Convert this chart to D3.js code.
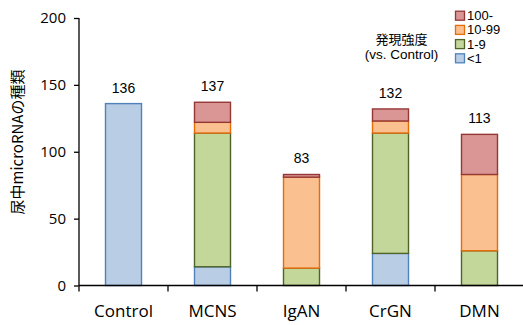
<!DOCTYPE html>
<html>
<head>
<meta charset="utf-8">
<script src="https://cdn.jsdelivr.net/npm/d3@7"></script>
<style>
  html, body { margin: 0; padding: 0; background: #fff; }
  svg { display: block; }
</style>
</head>
<body>
<svg id="chart" width="523" height="325"></svg>
<script>
// Groups on the x axis
const categories = ["Control", "MCNS", "IgAN", "CrGN", "DMN"];
// Expression-level bins, stacked bottom to top
const seriesKeys = ["<1", "1-9", "10-99", "100-"];
const lessThan1 = [136, 14, 0, 24, 0];
const oneToNine = [0, 100, 13, 90, 26];
const tenTo99 = [0, 8, 68, 9, 57];
const over100 = [0, 15, 2, 9, 30];
const totals = [136, 137, 83, 132, 113];
const yTicks = [0, 50, 100, 150, 200];

const fills = { "<1": "#B9CDE5", "1-9": "#C4D79B", "10-99": "#FAC090", "100-": "#D99694" };
const strokes = { "<1": "#4F81BD", "1-9": "#4F6228", "10-99": "#E46C0A", "100-": "#953735" };

const rows = categories.map((c, i) => ({
  cat: c,
  "<1": lessThan1[i], "1-9": oneToNine[i], "10-99": tenTo99[i], "100-": over100[i],
  total: totals[i]
}));

const svg = d3.select("#chart");
const x = d3.scaleBand().domain(categories).range([79, 524]).paddingInner(0).paddingOuter(0);
const y = d3.scaleLinear().domain([0, 200]).range([285.5, 18]);
const barW = 36;

const stack = d3.stack().keys(seriesKeys)(rows);

svg.append("g").selectAll("g")
  .data(stack).join("g")
  .attr("fill", d => fills[d.key])
  .attr("stroke", d => strokes[d.key])
  .attr("stroke-width", 1.4)
  .selectAll("rect")
  .data(d => d.filter(s => s[1] - s[0] > 0))
  .join("rect")
  .attr("x", d => x(d.data.cat) + x.bandwidth() / 2 - barW / 2)
  .attr("width", barW)
  .attr("y", d => y(d[1]))
  .attr("height", d => y(d[0]) - y(d[1]));

// Totals above each bar
svg.append("g").selectAll("text")
  .data(rows).join("text")
  .attr("x", d => x(d.cat) + x.bandwidth() / 2)
  .attr("y", d => y(d.total) - 11)
  .attr("text-anchor", "middle")
  .attr("font-family", "Liberation Sans, Arial, sans-serif")
  .attr("font-size", 14)
  .attr("fill", "#000")
  .text(d => d.total);

// Y axis
const yAxis = svg.append("g")
  .attr("transform", "translate(79,0)")
  .call(d3.axisLeft(y).tickValues(yTicks).tickSize(5).tickPadding(8));
yAxis.selectAll("path, line").attr("stroke", "#000").attr("stroke-width", 1.3);
yAxis.select(".domain").attr("d", `M0,${y(200)}V${y(0)}`);
yAxis.selectAll("text")
  .attr("font-family", "Open Sans, sans-serif")
  .attr("font-size", 15)
  .attr("fill", "#000");

// X axis: baseline with boundary ticks between groups
const xAxisG = svg.append("g");
xAxisG.append("line")
  .attr("x1", 79).attr("x2", 524).attr("y1", y(0)).attr("y2", y(0))
  .attr("stroke", "#000").attr("stroke-width", 1.3);
const bounds = categories.map(c => x(c)).concat([x(categories[categories.length - 1]) + x.bandwidth()]);
xAxisG.selectAll("line.tick")
  .data(bounds).join("line")
  .attr("class", "tick")
  .attr("x1", d => d).attr("x2", d => d)
  .attr("y1", y(0)).attr("y2", y(0) + 6)
  .attr("stroke", "#000").attr("stroke-width", 1.3);
xAxisG.selectAll("text")
  .data(categories).join("text")
  .attr("x", d => x(d) + x.bandwidth() / 2)
  .attr("y", 316.5)
  .attr("text-anchor", "middle")
  .attr("font-family", "Open Sans, sans-serif")
  .attr("font-size", 17)
  .attr("fill", "#000")
  .text(d => d);

// Y axis title
svg.append("text")
  .attr("transform", `translate(23,142) rotate(-90)`)
  .attr("text-anchor", "middle")
  .attr("font-family", "Noto Sans CJK JP, sans-serif")
  .attr("font-size", 15)
  .attr("fill", "#000")
  .text("尿中microRNAの種類");

// Legend
const legend = svg.append("g");
const legendOrder = ["100-", "10-99", "1-9", "<1"];
legendOrder.forEach((k, i) => {
  const cy = 15.7 + i * 14.2;
  legend.append("rect")
    .attr("x", 455.5).attr("y", cy - 4.5)
    .attr("width", 9).attr("height", 9)
    .attr("fill", fills[k]).attr("stroke", strokes[k]).attr("stroke-width", 1.3);
  legend.append("text")
    .attr("x", 467).attr("y", cy + 4.5)
    .attr("font-family", "Liberation Sans, Arial, sans-serif")
    .attr("font-size", 13)
    .attr("fill", "#000")
    .text(k);
});
legend.append("text")
  .attr("x", 401.5).attr("y", 43.5)
  .attr("text-anchor", "middle")
  .attr("font-family", "Noto Sans CJK JP, sans-serif")
  .attr("font-size", 13)
  .attr("fill", "#000")
  .text("発現強度");
legend.append("text")
  .attr("x", 401.5).attr("y", 58.5)
  .attr("text-anchor", "middle")
  .attr("font-family", "Liberation Sans, Arial, sans-serif")
  .attr("font-size", 13.5)
  .attr("fill", "#000")
  .text("(vs. Control)");
</script>
</body>
</html>
